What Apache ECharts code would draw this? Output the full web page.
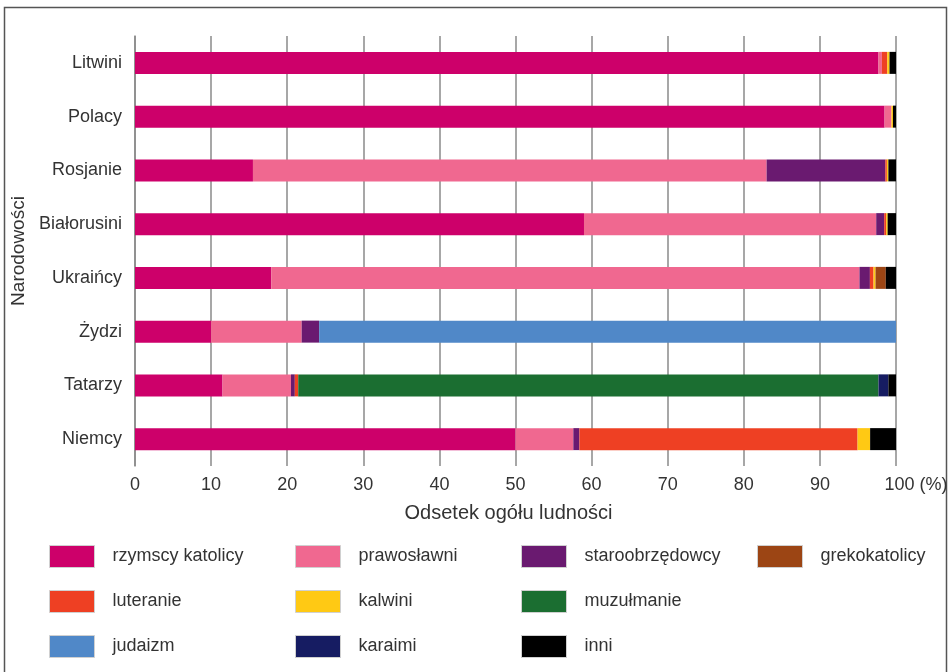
<!DOCTYPE html>
<html>
<head>
<meta charset="utf-8">
<script src="https://cdn.jsdelivr.net/npm/echarts@6/dist/echarts.min.js"></script>
<style>
html,body{margin:0;padding:0;background:#fff;}
#c{width:949px;height:672px;}
</style>
</head>
<body>
<div id="c"></div>
<script>
// Categories (top to bottom)
const nations = ['Litwini','Polacy','Rosjanie','Białorusini','Ukraińcy','Żydzi','Tatarzy','Niemcy'];
// Values (% of population) per religion, in the order of nations
const rzymscyKatolicy = [97.7, 98.5, 15.5, 59.0, 17.9, 10.0, 11.5, 50.0];
const prawoslawni     = [0.45, 0.9, 67.5, 38.4, 77.3, 11.9, 9.0, 7.6];
const staroobrzedowcy = [0, 0, 15.6, 1.05, 1.37, 2.3, 0.5, 0.8];
const luteranie       = [0.7, 0, 0.2, 0.25, 0.48, 0, 0.45, 36.55];
const kalwini         = [0.3, 0.2, 0.2, 0.2, 0.26, 0, 0, 1.65];
const grekokatolicy   = [0, 0, 0, 0, 1.35, 0, 0, 0];
const muzulmanie      = [0, 0, 0, 0, 0, 0, 76.25, 0];
const judaizm         = [0, 0, 0, 0, 0, 75.8, 0, 0];
const karaimi         = [0, 0, 0, 0, 0, 0, 1.3, 0];
const inni            = [0.85, 0.4, 1.0, 1.1, 1.4, 0, 1.0, 3.4];
const xTicks = [0,10,20,30,40,50,60,70,80,90,100];

const seriesDefs = [
  ['rzymscy katolicy', rzymscyKatolicy, '#CD006A'],
  ['prawosławni', prawoslawni, '#F06890'],
  ['staroobrzędowcy', staroobrzedowcy, '#6A1A70'],
  ['luteranie', luteranie, '#EE4023'],
  ['kalwini', kalwini, '#FFC914'],
  ['grekokatolicy', grekokatolicy, '#9C4514'],
  ['muzułmanie', muzulmanie, '#1B6E31'],
  ['judaizm', judaizm, '#5088C8'],
  ['karaimi', karaimi, '#161C62'],
  ['inni', inni, '#000000']
];

const FONT = "'Liberation Sans', Arial, sans-serif";
const TXT = '#333333';

const legendCommon = {
  orient: 'vertical',
  top: 545,
  padding: 0,
  itemWidth: 45,
  itemHeight: 22,
  itemGap: 22,
  icon: 'rect',
  selectedMode: false,
  textStyle: {fontFamily: FONT, fontSize: 18, color: TXT, padding: [0,0,0,13]},
  itemStyle: {borderColor: '#d0d0d0', borderWidth: 1}
};

const chart = echarts.init(document.getElementById('c'));
chart.setOption({
  backgroundColor: '#ffffff',
  animation: false,
  textStyle: {fontFamily: FONT},
  graphic: [{
    type: 'rect',
    shape: {x: 4.5, y: 7.5, width: 942, height: 720},
    style: {fill: 'none', stroke: '#555', lineWidth: 1.5},
    silent: true
  }],
  legend: [
    Object.assign({}, legendCommon, {left: 49, data: ['rzymscy katolicy','luteranie','judaizm']}),
    Object.assign({}, legendCommon, {left: 295, data: ['prawosławni','kalwini','karaimi']}),
    Object.assign({}, legendCommon, {left: 521, data: ['staroobrzędowcy','muzułmanie','inni']}),
    Object.assign({}, legendCommon, {left: 757, data: ['grekokatolicy']})
  ],
  grid: {left: 135, right: 53, top: 36, bottom: 206, containLabel: false, outerBoundsMode: 'none'},
  xAxis: {
    type: 'value',
    min: xTicks[0], max: xTicks[xTicks.length-1], interval: 10,
    name: 'Odsetek ogółu ludności',
    nameLocation: 'middle',
    nameGap: 37,
    nameTextStyle: {fontFamily: FONT, fontSize: 20, color: TXT, padding: [0, 14, 0, 0]},
    axisLine: {show: false},
    axisTick: {show: false},
    splitLine: {show: true, lineStyle: {color: '#8a8a8a', width: 1.5}},
    axisLabel: {
      margin: 10,
      fontFamily: FONT, fontSize: 18, color: TXT,
      formatter: v => v === 100 ? '{a|100 (%)}' : String(v),
      rich: {a: {fontFamily: FONT, fontSize: 18, color: TXT, padding: [0,0,0,40]}}
    }
  },
  yAxis: {
    type: 'category',
    data: nations,
    inverse: true,
    name: 'Narodowości',
    nameLocation: 'middle',
    nameGap: 89,
    nameRotate: 90,
    nameTextStyle: {fontFamily: FONT, fontSize: 19, color: TXT},
    axisLine: {show: true, lineStyle: {color: '#8a8a8a', width: 1.5}},
    axisTick: {show: false},
    axisLabel: {margin: 13, fontFamily: FONT, fontSize: 18, color: TXT}
  },
  series: seriesDefs.map(([name, data, color]) => ({
    name: name,
    type: 'bar',
    stack: 'total',
    barWidth: 22,
    data: data,
    itemStyle: {color: color},
    emphasis: {disabled: true}
  }))
});
</script>
</body>
</html>
